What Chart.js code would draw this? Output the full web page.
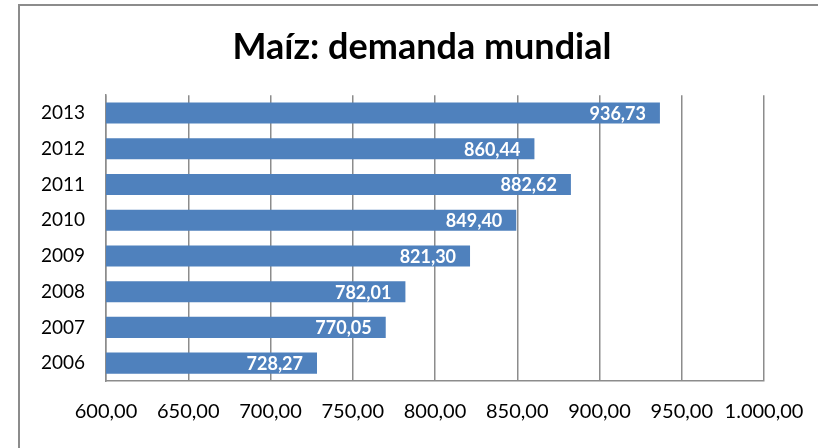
<!DOCTYPE html>
<html lang="es">
<head>
    <meta charset="UTF-8">
    <title>Maíz: demanda mundial</title>
    <style>
        body {
            margin: 0;
            background: #ffffff;
        }
        #chartContainer {
            position: absolute;
            left: 0;
            top: 0;
            width: 818px;
            height: 448px;
        }
    </style>
</head>
<body>

<div id="chartContainer">
    <canvas id="maizChart" width="818" height="448"></canvas>
</div>

<script src="https://cdn.jsdelivr.net/npm/chart.js"></script>
<script>
    const years = ['2006', '2007', '2008', '2009', '2010', '2011', '2012', '2013'];
    const demand = [728.27, 770.05, 782.01, 821.30, 849.40, 882.62, 860.44, 936.73];
    const tickLabels = ['600,00', '650,00', '700,00', '750,00', '800,00', '850,00', '900,00', '950,00', '1.000,00'];

    const fontFamily = 'Lato, "Open Sans", sans-serif';

    function fmt(v) {
        return v.toFixed(2).replace('.', ',');
    }

    // frame round the chart (only top and left edges are visible)
    const framePlugin = {
        id: 'frame',
        afterLayout(chart) {
            // centre the title on the whole frame, not on the padded area
            const t = chart.titleBlock;
            if (t) {
                t.left = 26;
                t.right = chart.width;
                t.width = t.right - t.left;
            }
        },
        beforeDraw(chart) {
            const ctx = chart.ctx;
            ctx.save();
            ctx.fillStyle = '#ffffff';
            ctx.fillRect(0, 0, chart.width, chart.height);
            ctx.strokeStyle = '#8c8c8c';
            ctx.lineWidth = 2;
            ctx.beginPath();
            ctx.moveTo(19, chart.height);
            ctx.lineTo(19, 5);
            ctx.lineTo(chart.width, 5);
            ctx.stroke();
            ctx.restore();
        }
    };

    // white value labels at the end of each bar
    const valueLabels = {
        id: 'valueLabels',
        afterDatasetsDraw(chart) {
            const ctx = chart.ctx;
            const meta = chart.getDatasetMeta(0);
            ctx.save();
            ctx.font = 'bold 18px ' + fontFamily;
            ctx.fillStyle = '#ffffff';
            ctx.textAlign = 'right';
            ctx.textBaseline = 'middle';
            meta.data.forEach((bar, i) => {
                ctx.fillText(fmt(demand[i]), bar.x - 14, bar.y + 1);
            });
            ctx.restore();
        }
    };

    const ctx = document.getElementById('maizChart').getContext('2d');
    new Chart(ctx, {
        type: 'bar',
        data: {
            labels: years,
            datasets: [{
                data: demand,
                backgroundColor: '#4f81bd',
                borderWidth: 0,
                barPercentage: 0.59,
                categoryPercentage: 1
            }]
        },
        options: {
            indexAxis: 'y',
            responsive: false,
            animation: false,
            layout: {
                padding: { left: 20, right: 54, top: 0, bottom: 0 }
            },
            plugins: {
                legend: { display: false },
                tooltip: { enabled: false },
                title: {
                    display: true,
                    text: 'Maíz: demanda mundial',
                    color: '#000000',
                    font: { family: fontFamily, size: 36, weight: 'bold', lineHeight: 1.2 },
                    padding: { top: 26, bottom: 26 }
                }
            },
            scales: {
                x: {
                    min: 600,
                    max: 1000,
                    ticks: {
                        stepSize: 50,
                        padding: 19,
                        color: '#000000',
                        font: { family: fontFamily, size: 20 },
                        maxRotation: 0,
                        autoSkip: false,
                        callback: (value, index) => tickLabels[index]
                    },
                    grid: {
                        color: '#8c8c8c',
                        lineWidth: 1.5,
                        drawTicks: false
                    },
                    border: { color: '#8c8c8c', width: 1.5 },
                    afterFit(scale) {
                        scale.height = 67;
                        scale.paddingLeft = 0;
                        scale.paddingRight = 0;
                    }
                },
                y: {
                    reverse: true,
                    ticks: {
                        padding: 21,
                        color: '#000000',
                        font: { family: fontFamily, size: 19 }
                    },
                    grid: { display: false, drawTicks: false },
                    border: { color: '#8c8c8c', width: 1.5 },
                    afterFit(scale) {
                        scale.width = 86;
                    }
                }
            }
        },
        plugins: [framePlugin, valueLabels]
    });
</script>

</body>
</html>
